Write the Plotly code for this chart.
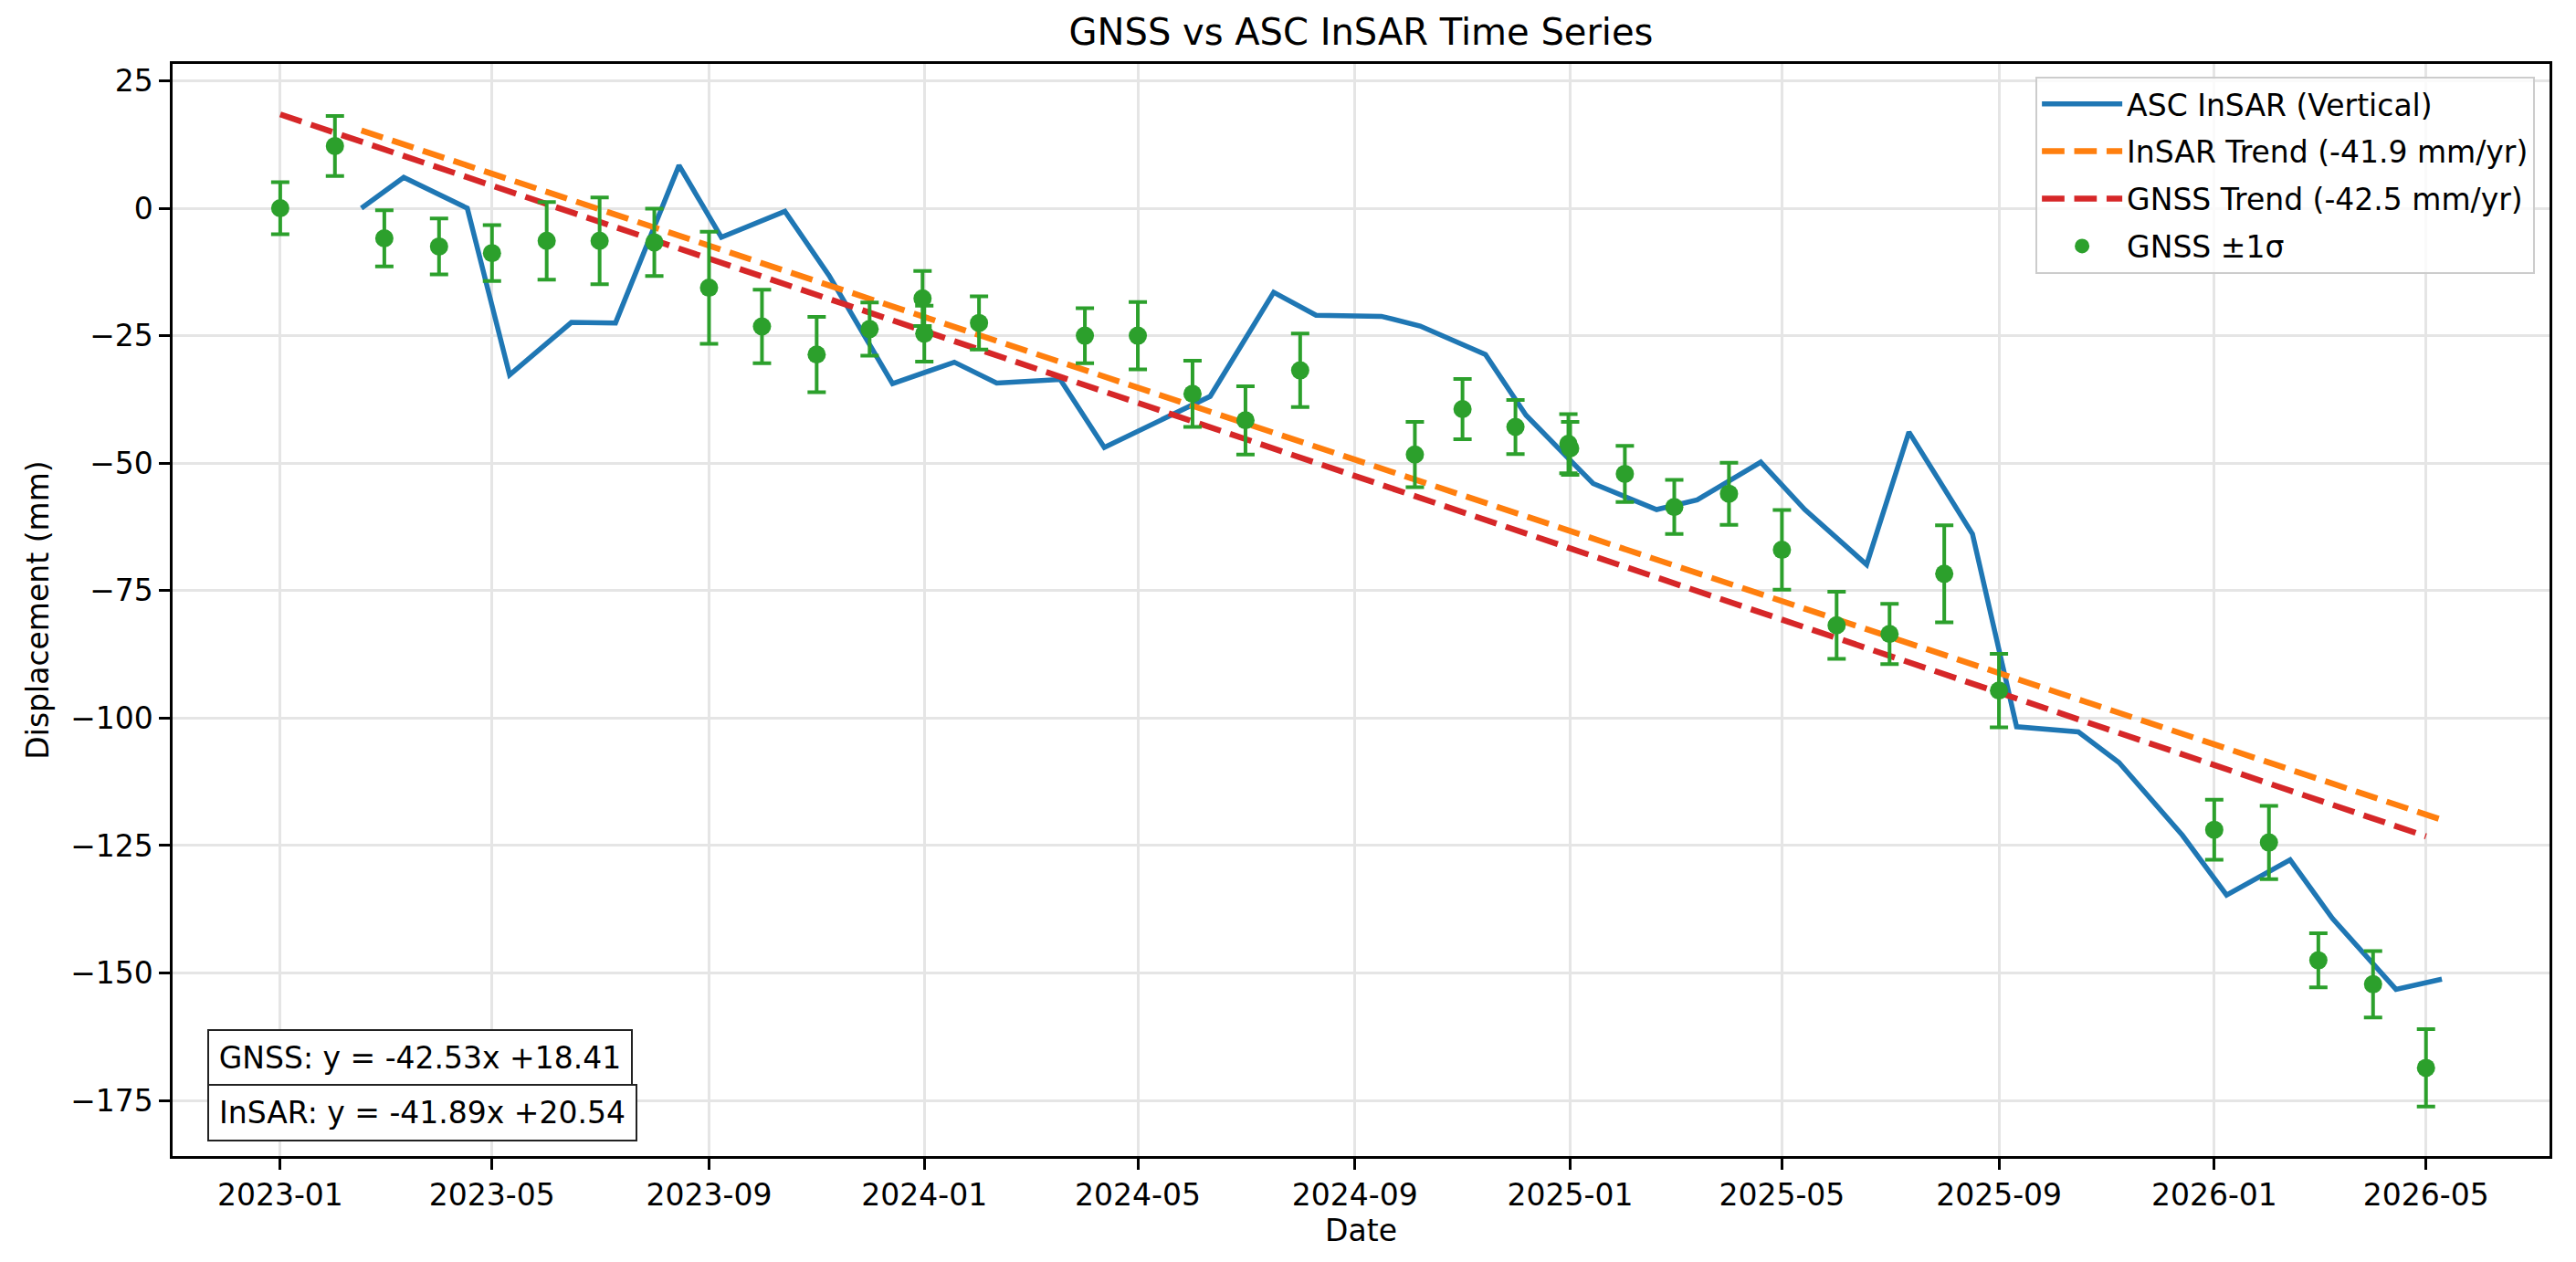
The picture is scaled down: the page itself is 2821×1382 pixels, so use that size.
from datetime import date
import plotly.graph_objects as go

# ASC InSAR vertical displacement (mm)
insar_dates = [
    "2023-02-16", "2023-03-12", "2023-04-17", "2023-05-11", "2023-06-15",
    "2023-07-10", "2023-08-15", "2023-09-08", "2023-10-14", "2023-11-08",
    "2023-12-14", "2024-01-18", "2024-02-11", "2024-03-18", "2024-04-12",
    "2024-06-11", "2024-07-17", "2024-08-10", "2024-09-16", "2024-10-08",
    "2024-11-14", "2024-12-07", "2025-01-14", "2025-02-19", "2025-03-14",
    "2025-04-19", "2025-05-14", "2025-06-18", "2025-07-12", "2025-08-17",
    "2025-09-11", "2025-10-16", "2025-11-08", "2025-12-14", "2026-01-08",
    "2026-02-13", "2026-03-09", "2026-04-14", "2026-05-10",
]
insar_disp = [
    0.0, 6.05, 0.0, -32.7, -22.4,
    -22.5, 8.4, -5.7, -0.6, -13.2,
    -34.4, -30.2, -34.3, -33.6, -46.9,
    -36.9, -16.5, -21.0, -21.2, -23.1,
    -28.7, -40.6, -54.0, -59.1, -57.2,
    -49.8, -59.1, -69.9, -43.9, -63.9,
    -101.7, -102.7, -108.7, -123.0, -134.7,
    -127.8, -139.3, -153.2, -151.2,
]

# GNSS vertical displacement (mm) and 1-sigma
gnss_dates = [
    "2023-01-01", "2023-02-01", "2023-03-01", "2023-04-01", "2023-05-01",
    "2023-06-01", "2023-07-01", "2023-08-01", "2023-09-01", "2023-10-01",
    "2023-11-01", "2023-12-01", "2023-12-31", "2024-01-01", "2024-02-01",
    "2024-04-01", "2024-05-01", "2024-06-01", "2024-07-01", "2024-08-01",
    "2024-10-05", "2024-11-01", "2024-12-01", "2024-12-31", "2025-01-01",
    "2025-02-01", "2025-03-01", "2025-04-01", "2025-05-01", "2025-06-01",
    "2025-07-01", "2025-08-01", "2025-09-01", "2026-01-01", "2026-02-01",
    "2026-03-01", "2026-04-01", "2026-05-01",
]
gnss_disp = [
    0.0, 12.2, -5.9, -7.5, -8.8,
    -6.4, -6.4, -6.7, -15.6, -23.2,
    -28.7, -23.7, -17.7, -24.6, -22.5,
    -25.0, -25.0, -36.4, -41.6, -31.8,
    -48.3, -39.4, -42.9, -46.2, -47.1,
    -52.1, -58.6, -56.0, -67.0, -81.8,
    -83.5, -71.7, -94.6, -121.9, -124.4,
    -147.5, -152.2, -168.6,
]
gnss_sigma = [
    5.1, 5.9, 5.5, 5.5, 5.5,
    7.6, 8.5, 6.6, 11.0, 7.2,
    7.4, 5.2, 5.4, 5.5, 5.2,
    5.4, 6.6, 6.5, 6.7, 7.2,
    6.4, 5.9, 5.3, 5.8, 5.2,
    5.5, 5.3, 6.1, 7.8, 6.6,
    5.9, 9.5, 7.2, 5.9, 7.2,
    5.3, 6.5, 7.6,
]

# linear fits: y = slope * years + intercept (years since first GNSS epoch)
gnss_fit = (-42.53, 18.41)
insar_fit = (-41.89, 20.54)

FONT = "DejaVu Sans"
FS = 33
BLUE, ORANGE, RED, GREEN = "#1f77b4", "#ff7f0e", "#d62728", "#2ca02c"


def to_date(s):
    return date.fromisoformat(s)


def trend(dates, fit, ref):
    ends = [dates[0], dates[-1]]
    vals = [fit[0] * (to_date(d) - ref).days / 365.25 + fit[1] for d in ends]
    return ends, vals


ref = to_date(gnss_dates[0])
gx, gy = trend(gnss_dates, gnss_fit, ref)
ix, iy = trend(insar_dates, insar_fit, ref)

fig = go.Figure()

fig.add_trace(go.Scatter(
    x=insar_dates, y=insar_disp, mode="lines",
    name="ASC InSAR (Vertical)", legendgroup="a",
    line=dict(color=BLUE, width=5.5),
))
fig.add_trace(go.Scatter(
    x=ix, y=iy, mode="lines",
    name=f"InSAR Trend ({insar_fit[0]:.1f} mm/yr)", legendgroup="b",
    line=dict(color=ORANGE, width=6.5, dash="24.7px,10.7px"),
))
fig.add_trace(go.Scatter(
    x=gx, y=gy, mode="lines",
    name=f"GNSS Trend ({gnss_fit[0]:.1f} mm/yr)", legendgroup="c",
    line=dict(color=RED, width=6.5, dash="24.7px,10.7px"),
))
fig.add_trace(go.Scatter(
    x=gnss_dates, y=gnss_disp, mode="markers",
    name="GNSS ±1σ", legendgroup="d",
    marker=dict(color=GREEN, size=20),
    error_y=dict(type="data", array=gnss_sigma, visible=True,
                 color=GREEN, thickness=4, width=10),
))

# x range with matplotlib-like 5% padding
d0 = to_date(gnss_dates[0])
d1 = max(to_date(insar_dates[-1]), to_date(gnss_dates[-1]))
pad = (d1 - d0) * 0.05
xr = [str(d0 - pad), str(d1 + pad)]

axis_common = dict(
    showline=True, linecolor="black", linewidth=2.7, mirror=True,
    ticks="outside", ticklen=11.7, tickwidth=2.7, tickcolor="black",
    showgrid=True, gridcolor="#e5e5e5", gridwidth=2.7,
    zeroline=False,
    tickfont=dict(family=FONT, size=FS, color="black"),
)

# page body has an 8px margin, so the figure is a bit smaller than the window
fig.update_layout(
    width=2805, height=1366,
    margin=dict(l=181, r=21, t=62, b=108),
    paper_bgcolor="white", plot_bgcolor="white",
    font=dict(family=FONT, size=FS, color="black"),
    title=dict(
        text="GNSS vs ASC InSAR Time Series",
        x=0.5, xref="paper", xanchor="center",
        y=1 - 27 / 1366, yanchor="middle",
        font=dict(family=FONT, size=40, color="black"),
    ),
    xaxis=dict(
        axis_common,
        type="date", range=xr, tick0="2023-01-01", dtick="M4",
        tickformat="%Y-%m",
        title=dict(text="Date", standoff=8,
                   font=dict(family=FONT, size=FS, color="black")),
    ),
    yaxis=dict(
        axis_common,
        range=[-185.9, 28.3], tick0=0, dtick=25,
        title=dict(text="Displacement (mm)", standoff=14,
                   font=dict(family=FONT, size=FS, color="black")),
    ),
    legend=dict(
        x=0.9939, y=0.9885, xanchor="right", yanchor="top",
        bgcolor="rgba(255,255,255,0.8)", bordercolor="#cccccc", borderwidth=2,
        font=dict(family=FONT, size=FS, color="black"),
        itemwidth=88, traceorder="grouped", tracegroupgap=6,
    ),
    showlegend=True,
)

boxes = [
    (f"GNSS: y = {gnss_fit[0]:.2f}x +{gnss_fit[1]:.2f}", 0.0633, 452),
    (f"InSAR: y = {insar_fit[0]:.2f}x +{insar_fit[1]:.2f}", 0.0131, 457),
]
for text, ypos, w in boxes:
    fig.add_annotation(
        text=text, xref="paper", yref="paper", x=0.0145, y=ypos,
        xanchor="left", yanchor="bottom", showarrow=False, align="center",
        width=w, height=49,
        font=dict(family=FONT, size=FS, color="black"),
        bgcolor="white", bordercolor="#222222", borderwidth=2, borderpad=5,
    )

fig.write_html("out.html")
